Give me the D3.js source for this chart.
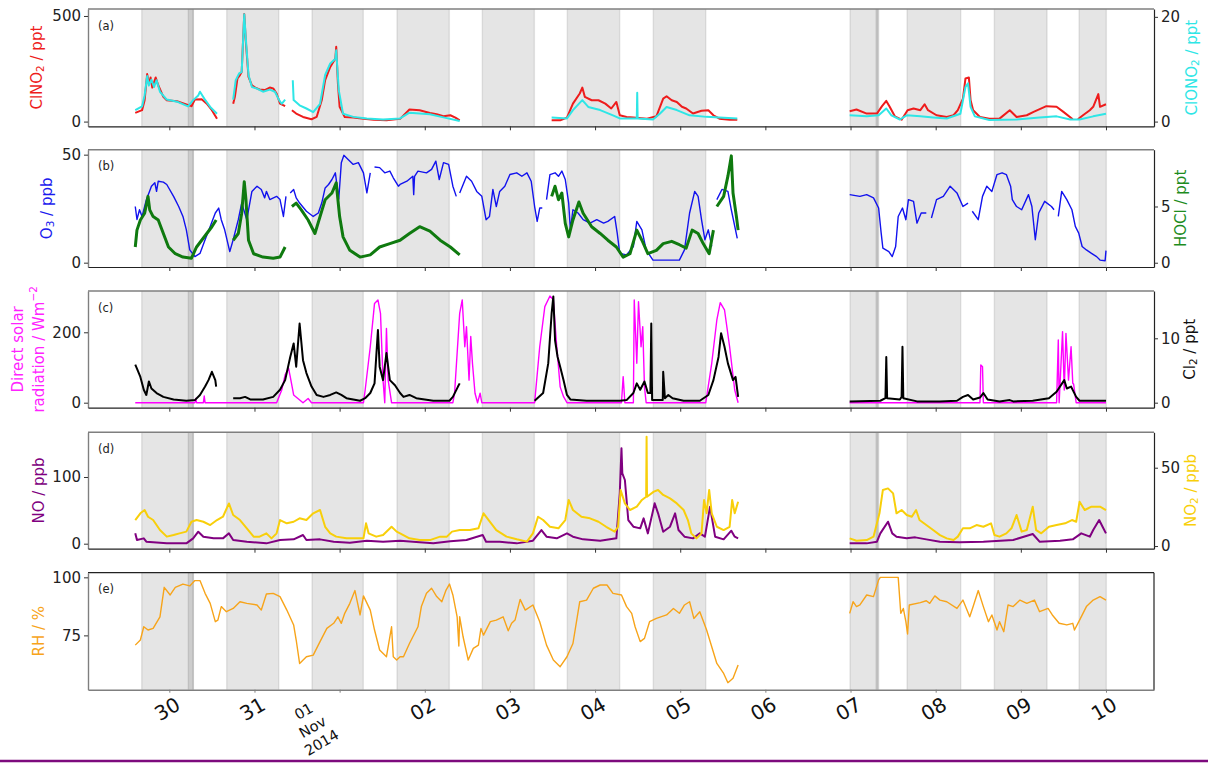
<!DOCTYPE html>
<html lang="en">
<head>
<meta charset="utf-8">
<title>Chlorine species time series</title>
<script src="https://cdn.jsdelivr.net/npm/d3@7"></script>
<style>
  body { margin: 0; background: #fff; }
  svg text { font-family: "DejaVu Sans", sans-serif; }
</style>
</head>
<body>
<script>
// all times are in days after 30 Oct 2014 00:00 (UTC)
var nightStart = [-0.324, 0.223, 0.674, 1.676, 2.674, 3.676, 4.674, 5.684, 7.994, 8.30, 8.664, 9.689, 10.684];
var nightEnd   = [0.282, 0.282, 1.285, 2.278, 3.288, 4.287, 5.289, 6.30, 8.32, 8.33, 9.294, 10.308, 11.004];

var tickDays = [0, 1, 2, 3, 4, 5, 6, 7, 8, 9, 10, 11];
var tickLabels = ["30", "31", "01\nNov\n2014", "02", "03", "04", "05", "06", "07", "08", "09", "10"];

// (a) ClNO2 / ppt (left) and ClONO2 / ppt (right)
var clno2 = [[-0.40,41],[-0.32,54],[-0.29,101],[-0.26,225],[-0.24,180],[-0.22,209],[-0.20,161],[-0.16,209],[-0.13,172],[-0.07,117],[-0.03,101],[0.09,96],[0.20,81],[0.26,73],[0.30,104],[0.38,106],[0.44,85],[0.50,54],[0.56,13],[0.6,null],
  [0.75,85],[0.77,117],[0.80,204],[0.83,220],[0.85,236],[0.88,509],[0.90,370],[0.93,212],[0.97,172],[1.01,161],[1.06,152],[1.12,149],[1.18,161],[1.22,157],[1.26,133],[1.30,85],[1.36,73],[1.40,null],
  [1.44,54],[1.49,38],[1.57,22],[1.67,11],[1.73,22],[1.79,101],[1.83,196],[1.89,259],[1.95,299],[1.96,354],[1.98,180],[2.00,70],[2.06,22],[2.16,19],[2.28,14],[2.40,9],[2.55,6],[2.71,13],[2.82,57],[2.94,54],[3.06,41],[3.14,35],[3.22,25],[3.30,30],[3.36,19],[3.41,6],[3.45,null],
  [4.49,6],[4.59,6],[4.67,19],[4.74,85],[4.82,133],[4.85,161],[4.88,117],[4.96,101],[5.04,101],[5.12,85],[5.19,62],[5.25,93],[5.29,30],[5.37,22],[5.45,19],[5.61,14],[5.72,25],[5.80,109],[5.84,120],[5.90,101],[5.96,93],[6.02,70],[6.07,62],[6.15,38],[6.25,51],[6.33,54],[6.39,30],[6.46,14],[6.58,9],[6.67,9],[6.7,null],
  [7.99,49],[8.07,57],[8.19,38],[8.31,38],[8.37,73],[8.42,98],[8.46,70],[8.52,25],[8.60,9],[8.67,54],[8.74,62],[8.82,54],[8.87,82],[8.91,54],[9.01,30],[9.13,22],[9.21,30],[9.26,54],[9.32,109],[9.35,204],[9.39,209],[9.41,101],[9.44,54],[9.52,22],[9.63,14],[9.75,14],[9.87,54],[9.95,22],[10.07,30],[10.15,46],[10.30,73],[10.42,70],[10.50,46],[10.61,11],[10.64,null],[10.67,11],[10.73,30],[10.81,54],[10.85,70],[10.91,130],[10.93,70],[11.0,82]];

var clono2 = [[-0.40,2.2],[-0.32,2.9],[-0.29,5.0],[-0.26,8.7],[-0.24,6.9],[-0.21,8.0],[-0.18,6.6],[-0.15,7.9],[-0.11,5.7],[-0.03,4.2],[0.09,3.8],[0.22,2.9],[0.28,4.1],[0.34,5.0],[0.36,5.7],[0.41,4.4],[0.48,2.8],[0.56,1.5],[0.6,null],
  [0.75,4.2],[0.78,7.9],[0.82,9.2],[0.85,9.5],[0.88,20.5],[0.90,15.5],[0.93,8.9],[0.97,6.6],[1.03,6.3],[1.10,5.7],[1.18,6.1],[1.24,5.7],[1.29,4.1],[1.32,3.4],[1.36,4.2],[1.40,null],
  [1.45,7.9],[1.46,4.1],[1.53,3.1],[1.61,2.5],[1.69,1.8],[1.77,3.4],[1.83,8.9],[1.89,11.1],[1.95,12.0],[1.96,13.6],[1.99,6.0],[2.04,1.5],[2.16,0.9],[2.32,0.6],[2.51,0.4],[2.71,0.6],[2.82,1.7],[3.06,1.4],[3.22,0.8],[3.41,0.1],[3.45,null],
  [4.49,0.8],[4.67,0.6],[4.74,2.2],[4.85,4.1],[4.92,2.8],[5.06,2.2],[5.21,1.2],[5.29,0.6],[5.49,0.6],[5.495,5.5],[5.50,0.6],[5.68,0.4],[5.76,1.5],[5.84,2.8],[5.96,2.2],[6.11,1.2],[6.31,0.9],[6.46,0.8],[6.67,0.6],[6.7,null],
  [7.99,1.2],[8.19,1.0],[8.33,1.2],[8.42,2.5],[8.48,1.2],[8.58,0.4],[8.66,1.2],[8.82,1.0],[8.97,0.8],[9.13,0.6],[9.29,1.5],[9.35,6.6],[9.38,7.3],[9.41,2.8],[9.46,1.0],[9.63,0.3],[9.95,0.4],[10.22,0.8],[10.42,1.0],[10.58,0.4],[10.69,0.4],[10.85,1.0],[11.0,1.5]];

// (b) O3 / ppb (left) and HOCl / ppt (right)
var o3 = [[-0.40,26],[-0.38,20],[-0.35,24.5],[-0.32,21.4],[-0.27,29],[-0.21,35.4],[-0.17,37],[-0.15,33],[-0.13,37.7],[-0.07,37.3],[-0.03,36.2],[0.05,30.7],[0.11,26],[0.16,21.4],[0.20,15.2],[0.24,5.9],[0.30,2.8],[0.36,4.3],[0.42,10.6],[0.48,16.8],[0.54,23],[0.58,25.3],[0.61,19.9],[0.65,15.2],[0.71,5.1],[0.75,10.6],[0.81,19.9],[0.85,27.6],[0.91,19.9],[0.97,33],[1.03,35.4],[1.08,33.9],[1.12,30],[1.14,33],[1.18,29.2],[1.26,30.7],[1.30,29.2],[1.34,21.4],[1.37,30.7],[1.39,null],
  [1.42,32.3],[1.46,33.9],[1.49,30],[1.53,27.6],[1.61,23.8],[1.69,21.4],[1.75,23],[1.79,27.6],[1.83,34.6],[1.87,36.2],[1.91,38.5],[1.95,41.6],[1.99,29.5],[2.02,46.3],[2.05,49.7],[2.10,47.8],[2.16,45.5],[2.22,46.3],[2.28,41.6],[2.32,32.3],[2.36,41.6],[2.38,null],
  [2.41,44.3],[2.47,44],[2.53,41.6],[2.59,42.4],[2.63,39.3],[2.69,35.4],[2.71,36.2],[2.79,37.7],[2.86,40],[2.87,31.5],[2.88,40],[2.92,42.4],[3.02,41.6],[3.08,43.2],[3.13,47],[3.17,38.5],[3.22,46.3],[3.28,45.5],[3.33,35.4],[3.37,30.7],[3.39,null],
  [3.41,32.3],[3.49,40],[3.55,37.7],[3.61,33],[3.67,30.7],[3.72,19.9],[3.76,21.4],[3.80,33.9],[3.84,26],[3.88,33],[3.94,35.4],[4.00,40.8],[4.08,41.6],[4.14,40],[4.20,41.6],[4.25,37.7],[4.29,26],[4.32,19.1],[4.35,25.3],[4.38,25.3],[4.40,null],
  [4.43,29.2],[4.47,40.8],[4.53,41.6],[4.57,40],[4.61,42.4],[4.65,38.5],[4.69,27.6],[4.71,15.2],[4.74,24.5],[4.80,23],[4.86,19.9],[4.94,18.3],[5.02,19.9],[5.10,18.3],[5.15,19.1],[5.23,21.4],[5.26,13.7],[5.29,4.3],[5.37,3.6],[5.45,7.5],[5.49,19.1],[5.55,15.2],[5.60,5.9],[5.68,1.2],[5.84,1.2],[5.99,1.2],[6.05,5.9],[6.11,23],[6.17,33],[6.21,30.7],[6.25,19.9],[6.29,10.6],[6.33,15.2],[6.37,7.5],[6.40,null],
  [6.43,29.2],[6.49,33.9],[6.56,33],[6.60,24.5],[6.67,11.3],[6.7,null],
  [7.99,31.5],[8.11,30.7],[8.19,31.5],[8.27,30],[8.33,25.3],[8.36,13.7],[8.38,6.7],[8.45,5.1],[8.49,2.8],[8.53,7.5],[8.56,21.4],[8.61,25.3],[8.65,19.9],[8.68,29.2],[8.74,28.4],[8.78,18.3],[8.83,23],[8.89,23],[8.92,null],
  [8.95,20.7],[9.01,29.2],[9.09,30.7],[9.17,35.4],[9.25,32.3],[9.32,26],[9.38,27.6],[9.40,null],
  [9.43,23.8],[9.50,19.9],[9.55,30.7],[9.60,35.4],[9.66,33],[9.72,40.8],[9.78,41.6],[9.83,40.8],[9.88,35.4],[9.90,29.2],[9.95,26],[10.01,24.5],[10.09,31.5],[10.13,26],[10.17,10.6],[10.21,23],[10.28,28.4],[10.36,26],[10.39,24.5],[10.41,null],
  [10.44,21.4],[10.48,33],[10.54,29.2],[10.60,24.5],[10.64,16.8],[10.68,13.7],[10.72,7.5],[10.77,5.9],[10.83,4.3],[10.89,2.8],[10.93,1.2],[10.99,0.9],[11.0,5.6]];

var hocl = [[-0.40,1.4],[-0.38,2.9],[-0.34,3.8],[-0.29,4.4],[-0.25,5.9],[-0.23,4.7],[-0.19,4.1],[-0.13,3.8],[-0.07,2.6],[-0.01,1.4],[0.07,0.8],[0.16,0.5],[0.26,0.4],[0.32,1.4],[0.38,2.0],[0.44,2.6],[0.50,3.2],[0.55,3.8],[0.6,null],
  [0.75,2.0],[0.81,2.6],[0.85,4.4],[0.88,7.2],[0.90,5.6],[0.93,2.0],[0.99,0.8],[1.10,0.5],[1.22,0.4],[1.30,0.5],[1.36,1.4],[1.40,null],
  [1.44,5.0],[1.49,5.3],[1.55,4.7],[1.63,3.8],[1.71,2.6],[1.77,4.1],[1.83,5.6],[1.91,6.2],[1.96,7.1],[2.00,4.1],[2.04,2.3],[2.12,1.1],[2.24,0.5],[2.36,0.7],[2.47,1.4],[2.59,1.7],[2.71,2.0],[2.82,2.6],[2.94,3.2],[3.06,2.8],[3.18,2.0],[3.30,1.4],[3.41,0.7],[3.45,null],
  [4.49,5.9],[4.53,6.8],[4.57,5.6],[4.61,6.2],[4.65,3.5],[4.69,2.3],[4.74,3.8],[4.81,5.4],[4.86,4.4],[4.96,3.2],[5.06,2.6],[5.15,2.0],[5.25,1.4],[5.33,0.5],[5.41,0.8],[5.49,2.9],[5.55,2.0],[5.62,0.8],[5.72,1.1],[5.80,1.7],[5.90,1.9],[5.99,1.6],[6.07,1.3],[6.14,2.9],[6.21,2.6],[6.27,1.7],[6.34,0.8],[6.39,2.9],[6.41,null],
  [6.43,5.0],[6.51,5.9],[6.56,7.7],[6.60,9.5],[6.62,6.2],[6.66,4.1],[6.68,2.9]];

// (c) direct solar radiation / W m-2 (left) and Cl2 / ppt (right)
var rad = [[-0.40,0],[0.30,0],[0.31,12],[0.32,0],[0.40,0],[0.41,19],[0.42,0],[1.26,0],[1.32,36],[1.36,79],[1.40,98],[1.42,74],[1.46,22],[1.51,12],[1.57,0],[1.63,12],[1.67,0],
  [2.28,0],[2.30,36],[2.36,159],[2.41,282],[2.45,292],[2.48,254],[2.51,64],[2.53,0],[2.55,211],[2.57,64],[2.61,0],
  [3.33,0],[3.35,27],[3.41,254],[3.44,292],[3.47,159],[3.49,216],[3.52,64],[3.54,188],[3.56,112],[3.59,27],[3.62,0],[3.65,27],[3.67,0],
  [4.29,0],[4.35,159],[4.41,273],[4.47,303],[4.51,292],[4.55,159],[4.59,45],[4.63,17],[4.67,0],
  [5.31,0],[5.33,74],[5.35,0],[5.45,0],[5.46,292],[5.49,112],[5.51,287],[5.54,159],[5.56,216],[5.58,45],[5.60,0],
  [6.30,0],[6.37,112],[6.43,235],[6.47,284],[6.52,264],[6.58,159],[6.64,36],[6.68,0],[6.7,null],
  [7.99,0],[9.52,0],[9.53,107],[9.55,102],[9.56,0],[10.42,0],[10.44,178],[10.45,0],[10.49,202],[10.51,36],[10.53,197],[10.56,64],[10.59,159],[10.61,55],[10.62,53],[10.65,0],[11.0,0]];

var cl2 = [[-0.40,5.9],[-0.38,5.3],[-0.34,4.0],[-0.30,2.0],[-0.27,1.2],[-0.24,3.3],[-0.21,2.2],[-0.15,1.5],[-0.07,0.9],[0.05,0.5],[0.20,0.3],[0.30,0.4],[0.36,1.2],[0.42,2.5],[0.46,3.5],[0.50,4.8],[0.54,3.5],[0.55,2.5],[0.6,null],
  [0.75,0.7],[0.83,0.7],[0.89,0.9],[0.95,0.5],[1.10,0.5],[1.22,0.9],[1.30,2.0],[1.36,3.5],[1.42,7.1],[1.46,9.2],[1.49,5.6],[1.53,12.3],[1.57,6.6],[1.61,4.6],[1.67,2.5],[1.73,1.2],[1.81,0.9],[1.89,1.2],[1.96,1.6],[2.02,1.2],[2.08,0.7],[2.24,0.3],[2.30,0.7],[2.36,1.5],[2.41,3.0],[2.45,11.3],[2.47,5.6],[2.51,3.5],[2.55,7.7],[2.59,3.5],[2.65,2.7],[2.71,1.5],[2.75,0.9],[2.82,1.2],[2.90,0.7],[3.10,0.3],[3.29,0.3],[3.33,0.9],[3.39,2.5],[3.41,3.0],[3.43,null],
  [4.29,0.3],[4.39,1.5],[4.45,6.1],[4.49,13.9],[4.51,16.5],[4.53,9.7],[4.56,7.1],[4.59,5.6],[4.63,3.5],[4.67,1.2],[4.71,0.5],[4.90,0.3],[5.29,0.3],[5.37,0.4],[5.45,1.5],[5.49,3.0],[5.53,2.0],[5.58,3.3],[5.62,1.5],[5.65,1.5],[5.66,12.3],[5.67,0.4],[5.795,0.4],[5.80,4.8],[5.82,0.7],[5.86,1.2],[5.91,0.7],[6.04,0.3],[6.23,0.3],[6.33,1.2],[6.39,3.5],[6.45,7.1],[6.48,10.8],[6.52,8.7],[6.56,6.1],[6.62,3.5],[6.65,4.0],[6.68,0.9],[6.7,null],
  [7.99,0.2],[8.35,0.3],[8.41,0.7],[8.42,7.1],[8.43,0.7],[8.58,0.5],[8.60,0.9],[8.61,8.7],[8.62,0.7],[8.78,0.2],[9.05,0.2],[9.25,0.3],[9.32,0.9],[9.38,1.2],[9.44,0.5],[9.52,0.8],[9.56,1.5],[9.61,0.5],[9.75,0.2],[9.87,0.4],[9.91,0.2],[10.14,0.3],[10.33,0.7],[10.42,1.7],[10.51,3.5],[10.54,2.2],[10.59,2.5],[10.65,0.9],[10.69,0.3],[11.0,0.3]];

// (d) NO / ppb (left) and NO2 / ppb (right)
var no = [[-0.40,15.5],[-0.38,5.5],[-0.30,8],[-0.27,3],[-0.03,0.5],[0.20,0.5],[0.28,8],[0.34,18],[0.40,10.5],[0.52,8],[0.63,8],[0.70,15.5],[0.75,5.5],[0.91,3],[1.14,0.5],[1.30,5.5],[1.46,6.5],[1.57,13],[1.61,5.5],[1.77,6.5],[1.93,3],[2.12,1.5],[2.32,4.5],[2.51,3],[2.71,4.5],[2.90,2.5],[3.10,0.5],[3.30,3.5],[3.49,5.5],[3.68,13],[3.72,3],[3.88,3],[4.08,0.5],[4.27,4.5],[4.37,20.5],[4.43,10.5],[4.55,8],[4.67,15.5],[4.74,10.5],[4.86,6.5],[5.06,4.5],[5.25,8],[5.29,75.5],[5.31,143],[5.32,105.5],[5.35,95.5],[5.39,35.5],[5.45,25.5],[5.53,23],[5.57,38],[5.62,15.5],[5.70,60.5],[5.74,45.5],[5.80,18],[5.88,25.5],[5.94,45.5],[5.98,20.5],[6.05,10.5],[6.15,8],[6.23,15.5],[6.29,10.5],[6.35,55.5],[6.41,10.5],[6.51,6.5],[6.60,19.5],[6.64,10.5],[6.68,8],[6.7,null],
  [7.99,0.5],[8.19,0.5],[8.31,3],[8.35,15.5],[8.44,33],[8.49,15.5],[8.54,10.5],[8.66,8],[8.76,9.5],[8.89,6.5],[9.05,3],[9.28,2],[9.56,3],[9.91,5.5],[10.14,14.5],[10.22,3],[10.46,4.5],[10.61,6.5],[10.71,15.5],[10.81,10.5],[10.85,20.5],[10.92,35.5],[10.96,25.5],[11.0,15.5]];

var no2 = [[-0.40,16.6],[-0.34,20.9],[-0.29,23],[-0.25,18.7],[-0.19,16.6],[-0.11,10.2],[-0.03,6.0],[0.05,7.0],[0.12,8.1],[0.20,9.2],[0.26,15.5],[0.32,16.6],[0.40,15.5],[0.48,13.4],[0.56,16.6],[0.63,18.7],[0.70,27.2],[0.75,19.8],[0.83,16.6],[0.91,11.3],[0.99,6.0],[1.06,6.0],[1.14,8.1],[1.20,4.9],[1.26,8.1],[1.30,16.6],[1.38,14.5],[1.46,15.5],[1.53,17.7],[1.61,16.6],[1.69,20.9],[1.77,23],[1.83,12.3],[1.89,8.1],[1.96,6.0],[2.08,4.9],[2.20,4.9],[2.28,4.9],[2.31,14.5],[2.34,8.1],[2.43,6.0],[2.51,7.0],[2.61,12.3],[2.67,9.2],[2.71,8.1],[2.82,4.9],[2.94,3.8],[3.06,3.8],[3.18,6.0],[3.26,6.0],[3.32,9.2],[3.41,10.2],[3.53,10.2],[3.63,11.3],[3.69,20.9],[3.75,16.6],[3.84,10.2],[3.96,6.0],[4.08,4.3],[4.20,2.8],[4.27,8.1],[4.33,18.7],[4.39,16.6],[4.47,12.3],[4.57,11.3],[4.65,16.6],[4.69,29.4],[4.74,23],[4.84,18.7],[4.94,17.7],[5.04,15.5],[5.13,12.3],[5.23,9.2],[5.27,12.3],[5.30,35.8],[5.35,27.2],[5.41,23],[5.49,25.1],[5.55,29.4],[5.60,31.5],[5.605,69.8],[5.61,31.5],[5.69,34.7],[5.74,35.8],[5.80,32.6],[5.88,30.4],[5.96,27.2],[6.04,23],[6.09,16.6],[6.13,8.1],[6.19,4.9],[6.25,8.1],[6.28,29.4],[6.31,20.9],[6.34,35.8],[6.37,20.9],[6.43,12.3],[6.51,10.2],[6.58,12.3],[6.61,29.4],[6.64,20.9],[6.68,28.3],[6.7,null],
  [7.99,4.9],[8.07,3.4],[8.19,3.8],[8.27,6.0],[8.34,20.9],[8.38,35.8],[8.44,36.8],[8.50,33.6],[8.54,20.9],[8.60,23],[8.66,19.8],[8.72,18.7],[8.77,23],[8.81,16.6],[8.89,13.4],[8.97,10.2],[9.05,7.0],[9.13,4.9],[9.21,3.8],[9.26,6.0],[9.32,11.3],[9.40,11.3],[9.48,13.4],[9.56,12.3],[9.65,14.5],[9.69,7.0],[9.75,6.0],[9.83,8.1],[9.89,11.3],[9.95,19.8],[10.01,9.2],[10.07,10.2],[10.14,25.1],[10.18,10.2],[10.24,8.1],[10.33,12.3],[10.42,13.4],[10.52,14.5],[10.60,16.6],[10.65,15.5],[10.69,28.3],[10.75,23],[10.83,25.1],[10.93,25.1],[11.0,23]];

// (e) RH / %
var rh = [[-0.40,70.8],[-0.34,73],[-0.30,78.7],[-0.25,77.3],[-0.19,78],[-0.11,83],[-0.06,95.7],[0.01,92.4],[0.07,95.7],[0.16,97.1],[0.24,96.3],[0.30,98.6],[0.36,98.6],[0.42,93.1],[0.48,88.8],[0.54,80.9],[0.57,81.6],[0.61,87.4],[0.67,85.2],[0.75,86.6],[0.83,89.5],[0.91,88.8],[1.03,88.1],[1.08,85.9],[1.14,92.8],[1.22,93.1],[1.30,91.7],[1.38,85.9],[1.46,79.5],[1.49,73],[1.53,62.9],[1.61,65.8],[1.69,66.5],[1.77,72.3],[1.85,78],[1.93,80.2],[1.98,83],[2.02,80.2],[2.06,84.5],[2.12,88.8],[2.18,94.3],[2.24,83.8],[2.28,92],[2.36,85.9],[2.41,77.3],[2.47,68.7],[2.55,65.8],[2.61,78.7],[2.63,65.8],[2.67,64.4],[2.71,65.8],[2.75,65.8],[2.82,71.5],[2.92,78.7],[2.96,87.4],[3.02,93.1],[3.08,95.3],[3.14,91.7],[3.20,89.5],[3.25,94.5],[3.29,97.1],[3.33,92.4],[3.38,83],[3.40,70.4],[3.41,83],[3.45,74.4],[3.51,64.4],[3.57,69.4],[3.63,70.8],[3.66,78],[3.69,75.1],[3.77,80.9],[3.84,81.6],[3.92,83],[3.98,77],[4.02,80.2],[4.06,81.6],[4.12,90.5],[4.18,85.9],[4.27,88.1],[4.35,80.9],[4.43,70.8],[4.51,64.4],[4.59,61.5],[4.67,65.8],[4.74,71.5],[4.82,89.5],[4.90,90.2],[4.98,95.3],[5.06,96.7],[5.14,96.7],[5.21,93.1],[5.31,92.4],[5.37,87.4],[5.43,84.5],[5.47,78.7],[5.53,72.3],[5.58,73.7],[5.64,80.9],[5.72,82.3],[5.84,83.8],[5.92,86.6],[5.99,84.5],[6.05,88.1],[6.11,89.5],[6.16,82.3],[6.23,85.2],[6.31,77.3],[6.37,70.1],[6.43,62.9],[6.51,58.6],[6.56,54.6],[6.62,56.5],[6.68,62.2],[6.7,null],
  [7.99,84.5],[8.03,89.5],[8.07,87.4],[8.11,88.1],[8.19,92.4],[8.27,91.7],[8.33,98.9],[8.35,100],[8.56,100],[8.59,84.5],[8.62,86.6],[8.65,80.9],[8.67,75.6],[8.69,88.1],[8.82,89.1],[8.89,89.9],[8.93,88.8],[8.99,92],[9.05,90.2],[9.13,89.5],[9.25,86.6],[9.32,90.2],[9.40,83],[9.44,87.4],[9.50,94.3],[9.56,87.4],[9.62,80.9],[9.66,83.8],[9.72,77.3],[9.75,80.9],[9.80,76.6],[9.85,88.1],[9.91,87.4],[9.99,90.2],[10.07,88.8],[10.16,90.2],[10.22,85.2],[10.32,86.6],[10.37,83.8],[10.45,80.2],[10.54,79.5],[10.61,80.2],[10.63,77.3],[10.69,81.6],[10.77,87.4],[10.85,90.2],[10.93,91.7],[11.0,90.2]];

//Width and height
var w = 1208;
var h = 763;
var left = 88, right = 1154;

var base = Date.UTC(2014, 9, 30);
function day(d) { return new Date(base + d * 864e5); }

var x = d3.scaleUtc().domain([day(-0.955), day(11.564)]).range([left, right]);

var svg = d3.select("body").append("svg")
    .attr("width", w).attr("height", h);

// panel layouts, label text is built with tspans for sub/superscripts
var panels = [
  {tag: "(a)", top: 9, bottom: 126.3,
   yL: [-22.3, 533], ticksL: [0, 500], yR: [-0.9, 21.5], ticksR: [0, 20],
   labL: [[["ClNO", 0], ["2", 1], [" / ppt", 0]]], colL: "#ee1c1c", xL: [37],
   labR: [["ClONO", 0], ["2", 1], [" / ppt", 0]], colR: "#2ee6e6", xR: 1192,
   series: [{d: clno2, ax: "L", c: "#ee1c1c", sw: 2}, {d: clono2, ax: "R", c: "#2ee6e6", sw: 2}]},
  {tag: "(b)", top: 149.7, bottom: 267,
   yL: [-2.0, 52.3], ticksL: [0, 50], yR: [-0.38, 10.05], ticksR: [0, 5],
   labL: [[["O", 0], ["3", 1], [" / ppb", 0]]], colL: "#1a1aee", xL: [47],
   labR: [["HOCl / ppt", 0]], colR: "#1e8c1e", xR: 1181,
   series: [{d: o3, ax: "L", c: "#1212ee", sw: 1.4}, {d: hocl, ax: "R", c: "#0f7a0f", sw: 3}]},
  {tag: "(c)", top: 291, bottom: 407.7,
   yL: [-14.2, 317.3], ticksL: [0, 200], yR: [-0.78, 17.35], ticksR: [0, 10],
   labL: [[["Direct solar", 0]], [["radiation / Wm", 0], ["\u22122", 2]]], colL: "#ff22ff", xL: [18, 39],
   labR: [["Cl", 0], ["2", 1], [" / ppt", 0]], colR: "#111", xR: 1190,
   series: [{d: rad, ax: "L", c: "#ff00ff", sw: 1.4}, {d: cl2, ax: "R", c: "#000", sw: 2}]},
  {tag: "(d)", top: 432.3, bottom: 548.7,
   yL: [-7.5, 167], ticksL: [0, 100], yR: [-1.7, 72.6], ticksR: [0, 50],
   labL: [[["NO / ppb", 0]]], colL: "#800080", xL: [39],
   labR: [["NO", 0], ["2", 1], [" / ppb", 0]], colR: "#f8cf0a", xR: 1191,
   series: [{d: no, ax: "L", c: "#800080", sw: 2}, {d: no2, ax: "R", c: "#f8cf0a", sw: 2}]},
  {tag: "(e)", top: 572.7, bottom: 689.7,
   yL: [51.6, 102], ticksL: [75, 100], yR: null,
   labL: [[["RH / %", 0]]], colL: "#f7a41a", xL: [38.5],
   series: [{d: rh, ax: "L", c: "#f7a41a", sw: 1.4}]}
];

function addLabel(sel, parts) {
  var wasSub = false;
  parts.forEach(function(p) {
    var t = sel.append("tspan").text(p[0]);
    if (p[1] == 1) t.attr("font-size", "0.7em").attr("dy", "0.3em");
    if (p[1] == 2) t.attr("font-size", "0.7em").attr("dy", "-0.55em");
    // back to normal baseline after a subscript
    if (p[1] == 0 && wasSub) t.attr("dy", "-0.21em");
    wasSub = p[1] == 1;
  });
}

panels.forEach(function(p, idx) {
  var yl = d3.scaleLinear().domain(p.yL).range([p.bottom, p.top]);
  var yr = p.yR ? d3.scaleLinear().domain(p.yR).range([p.bottom, p.top]) : null;
  var isLast = idx == panels.length - 1;
  var g = svg.append("g");

  svg.append("clipPath").attr("id", "clip" + idx)
    .append("rect").attr("x", left).attr("y", p.top)
    .attr("width", right - left).attr("height", p.bottom - p.top);

  // night time shading
  var nights = d3.range(nightStart.length);
  g.selectAll("rect.night").data(nights).enter().append("rect")
    .attr("class", "night")
    .attr("x", function(i) { return x(day(nightStart[i])); })
    .attr("width", function(i) { return x(day(nightEnd[i])) - x(day(nightStart[i])); })
    .attr("y", p.top).attr("height", p.bottom - p.top)
    .style("fill", "#000").style("fill-opacity", 0.1);
  nights.forEach(function(i) {
    [nightStart[i], nightEnd[i]].forEach(function(t) {
      g.append("line")
        .attr("x1", x(day(t))).attr("x2", x(day(t)))
        .attr("y1", p.top).attr("y2", p.bottom)
        .style("stroke", "#000").style("stroke-opacity", 0.09).style("stroke-width", 1.5);
    });
  });

  // data lines
  p.series.forEach(function(s) {
    var ys = s.ax == "R" ? yr : yl;
    var line = d3.line()
      .defined(function(d) { return d[1] != null; })
      .x(function(d) { return x(day(d[0])); })
      .y(function(d) { return ys(d[1]); });
    g.append("path").datum(s.d)
      .attr("d", line)
      .attr("clip-path", "url(#clip" + idx + ")")
      .style("fill", "none").style("stroke", s.c)
      .style("stroke-width", s.sw).style("stroke-linejoin", "round");
  });

  // spines
  var grey = "#7f7f7f", dark = "#222";
  svg.append("line").attr("x1", left).attr("x2", right).attr("y1", p.top).attr("y2", p.top)
    .style("stroke", isLast ? dark : grey).style("stroke-width", isLast ? 1.2 : 1.6);

  var axL = svg.append("g").attr("transform", "translate(" + left + ",0)")
    .call(d3.axisLeft(yl).tickValues(p.ticksL).tickSize(4).tickSizeOuter(0).tickPadding(3));
  axL.select(".domain").style("stroke", grey).style("stroke-width", 1.4);
  axL.selectAll(".tick line").style("stroke", "#333");

  var axB = svg.append("g").attr("transform", "translate(0," + p.bottom + ")")
    .call(d3.axisBottom(x).tickValues(tickDays.map(day)).tickSize(isLast ? 3 : 4).tickSizeOuter(0).tickFormat(""));
  axB.select(".domain").style("stroke", isLast ? grey : dark).style("stroke-width", isLast ? 1.6 : 1.2);
  axB.selectAll(".tick line").style("stroke", isLast ? grey : "#333");

  if (yr) {
    var axR = svg.append("g").attr("transform", "translate(" + right + ",0)")
      .call(d3.axisRight(yr).tickValues(p.ticksR).tickSize(4).tickSizeOuter(0).tickPadding(3));
    axR.select(".domain").style("stroke", dark).style("stroke-width", 1.2);
    axR.selectAll(".tick line").style("stroke", "#333");
  } else {
    svg.append("line").attr("x1", right).attr("x2", right).attr("y1", p.top).attr("y2", p.bottom)
      .style("stroke", dark).style("stroke-width", 1.2);
  }
  svg.selectAll(".tick text").style("font-size", "15px").style("fill", "#222")
    .style("font-family", "DejaVu Sans, sans-serif");

  // panel tag
  svg.append("text").attr("x", 98).attr("y", p.top + 20.5)
    .style("font-size", "11.5px").style("fill", "#222").text(p.tag);

  // axis labels
  var cy = (p.top + p.bottom) / 2;
  p.labL.forEach(function(parts, k) {
    var t = svg.append("text")
      .attr("transform", "translate(" + p.xL[k] + "," + cy + ") rotate(-90)")
      .attr("text-anchor", "middle").attr("dominant-baseline", "central")
      .style("font-size", "15px").style("fill", p.colL);
    addLabel(t, parts);
  });
  if (p.labR) {
    var t = svg.append("text")
      .attr("transform", "translate(" + p.xR + "," + cy + ") rotate(-90)")
      .attr("text-anchor", "middle").attr("dominant-baseline", "central")
      .style("font-size", "15px").style("fill", p.colR);
    addLabel(t, p.labR);
  }

  // date labels under the last panel
  if (isLast) {
    tickDays.forEach(function(dd, i) {
      var lines = tickLabels[i].split("\n");
      var tx = x(day(dd));
      if (lines.length == 1) {
        svg.append("text")
          .attr("transform", "translate(" + (tx - 2) + ",709) rotate(-30)")
          .attr("text-anchor", "middle").attr("dominant-baseline", "central")
          .style("font-size", "20px").style("fill", "#111").text(lines[0]);
      } else {
        var tt = svg.append("text")
          .attr("transform", "translate(" + (tx - 27) + ",727) rotate(-30)")
          .attr("text-anchor", "middle")
          .style("font-size", "14.5px").style("fill", "#111");
        lines.forEach(function(l, j) {
          tt.append("tspan").attr("x", 0).attr("y", (j - 1) * 18 + 5).text(l);
        });
      }
    });
  }
});

// purple rule at the bottom of the figure
svg.append("line").attr("x1", 0).attr("x2", w).attr("y1", 761).attr("y2", 761)
  .style("stroke", "#7d0a7d").style("stroke-width", 2.5);
</script>
</body>
</html>
